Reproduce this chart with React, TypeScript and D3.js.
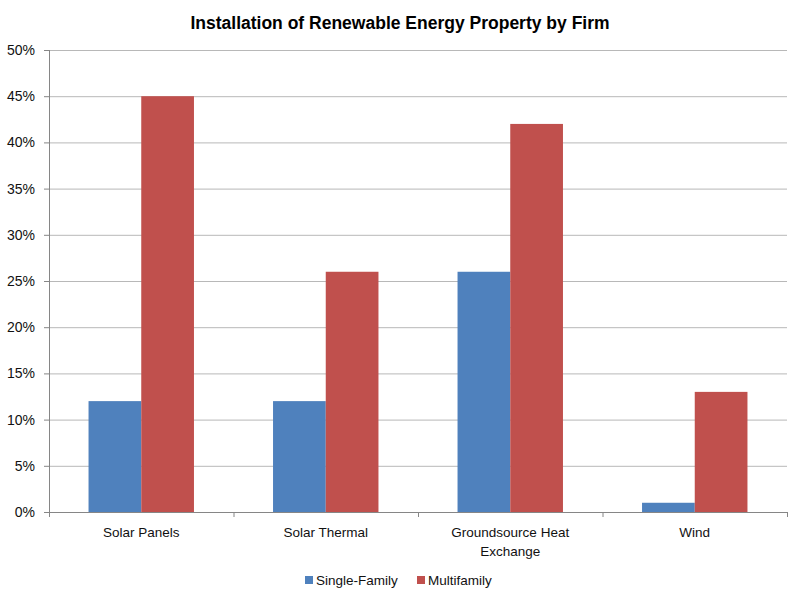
import { useRef, useEffect } from 'react';
import * as d3 from 'd3';

const categories = ['Solar Panels', 'Solar Thermal', 'Groundsource Heat Exchange', 'Wind'];
const seriesNames = ['Single-Family', 'Multifamily'];
const singleFamily = [12, 12, 26, 1];
const multifamily = [45, 26, 42, 13];
const yTicks = [0, 5, 10, 15, 20, 25, 30, 35, 40, 45, 50];
const colors = ['#4f81bd', '#c0504d'];

const App = () => {
  const svgRef = useRef<SVGSVGElement>(null);

  useEffect(() => {
    if (!svgRef.current) return;
    document.body.style.margin = '0';

    const width = 800;
    const height = 600;
    const left = 49;
    const right = 787;
    const top = 50;
    const bottom = 512;
    const font = '"Liberation Sans", Arial, sans-serif';

    const svg = d3.select(svgRef.current).attr('width', width).attr('height', height);
    svg.selectAll('*').remove();
    svg.append('rect').attr('width', width).attr('height', height).attr('fill', '#fff');

    const x = d3.scaleBand<string>().domain(categories).range([left, right]);
    const inner = d3
      .scaleBand<string>()
      .domain(seriesNames)
      .range([0, x.bandwidth()])
      .paddingInner(0)
      .paddingOuter(0.75);
    const y = d3.scaleLinear().domain([0, 50]).range([bottom, top]);

    // gridlines
    svg
      .append('g')
      .selectAll('line')
      .data(yTicks.filter((t) => t > 0))
      .enter()
      .append('line')
      .attr('x1', left)
      .attr('x2', right)
      .attr('y1', (d) => y(d) + 0.5)
      .attr('y2', (d) => y(d) + 0.5)
      .attr('stroke', '#b8b8b8')
      .attr('stroke-width', 1);

    // bars
    const data = categories.map((c, i) => ({ cat: c, vals: [singleFamily[i], multifamily[i]] }));
    const groups = svg
      .append('g')
      .selectAll('g')
      .data(data)
      .enter()
      .append('g')
      .attr('transform', (d) => `translate(${x(d.cat)}, 0)`);

    groups
      .selectAll('rect')
      .data((d) => d.vals.map((v, i) => ({ name: seriesNames[i], v, i })))
      .enter()
      .append('rect')
      .attr('x', (d) => inner(d.name) as number)
      .attr('width', inner.bandwidth())
      .attr('y', (d) => y(d.v))
      .attr('height', (d) => bottom - y(d.v))
      .attr('fill', (d) => colors[d.i]);

    // y axis
    svg
      .append('line')
      .attr('x1', left + 0.5)
      .attr('x2', left + 0.5)
      .attr('y1', top)
      .attr('y2', bottom)
      .attr('stroke', '#868686');
    svg
      .append('g')
      .selectAll('line')
      .data(yTicks)
      .enter()
      .append('line')
      .attr('x1', left - 5)
      .attr('x2', left)
      .attr('y1', (d) => y(d) + 0.5)
      .attr('y2', (d) => y(d) + 0.5)
      .attr('stroke', '#868686');
    svg
      .append('g')
      .selectAll('text')
      .data(yTicks)
      .enter()
      .append('text')
      .attr('x', 35)
      .attr('y', (d) => y(d))
      .attr('dy', '0.35em')
      .attr('text-anchor', 'end')
      .attr('font-family', font)
      .attr('font-size', 14)
      .attr('fill', '#111')
      .text((d) => `${d}%`);

    // x axis
    svg
      .append('line')
      .attr('x1', left)
      .attr('x2', right)
      .attr('y1', bottom + 0.5)
      .attr('y2', bottom + 0.5)
      .attr('stroke', '#868686');
    const boundaries = categories.map((c) => x(c) as number).concat([right]);
    svg
      .append('g')
      .selectAll('line')
      .data(boundaries)
      .enter()
      .append('line')
      .attr('x1', (d) => d + 0.5)
      .attr('x2', (d) => d + 0.5)
      .attr('y1', bottom)
      .attr('y2', bottom + 5)
      .attr('stroke', '#868686');

    const labels = svg
      .append('g')
      .selectAll('text')
      .data(categories)
      .enter()
      .append('text')
      .attr('x', (d) => (x(d) as number) + x.bandwidth() / 2)
      .attr('y', 537)
      .attr('text-anchor', 'middle')
      .attr('font-family', font)
      .attr('font-size', 13.5)
      .attr('fill', '#111');
    labels.each(function (d) {
      const t = d3.select(this);
      const lines = d === 'Groundsource Heat Exchange' ? ['Groundsource Heat', 'Exchange'] : [d];
      lines.forEach((l, i) => {
        t.append('tspan')
          .attr('x', (x(d) as number) + x.bandwidth() / 2)
          .attr('dy', i === 0 ? 0 : 19)
          .text(l);
      });
    });

    // title
    svg
      .append('text')
      .attr('x', 400)
      .attr('y', 29)
      .attr('text-anchor', 'middle')
      .attr('font-family', font)
      .attr('font-weight', 'bold')
      .attr('font-size', 17.5)
      .attr('fill', '#000')
      .text('Installation of Renewable Energy Property by Firm');

    // legend
    const legendX = [305, 417];
    const legend = svg
      .append('g')
      .selectAll('g')
      .data(seriesNames)
      .enter()
      .append('g')
      .attr('transform', (d, i) => `translate(${legendX[i]}, 576)`);
    legend
      .append('rect')
      .attr('width', 8)
      .attr('height', 8)
      .attr('fill', (d, i) => colors[i]);
    legend
      .append('text')
      .attr('x', 11)
      .attr('y', 4)
      .attr('dy', '0.35em')
      .attr('font-family', font)
      .attr('font-size', 13.5)
      .attr('fill', '#111')
      .text((d) => d);
  }, []);

  return <svg ref={svgRef}></svg>;
};

export default App;
